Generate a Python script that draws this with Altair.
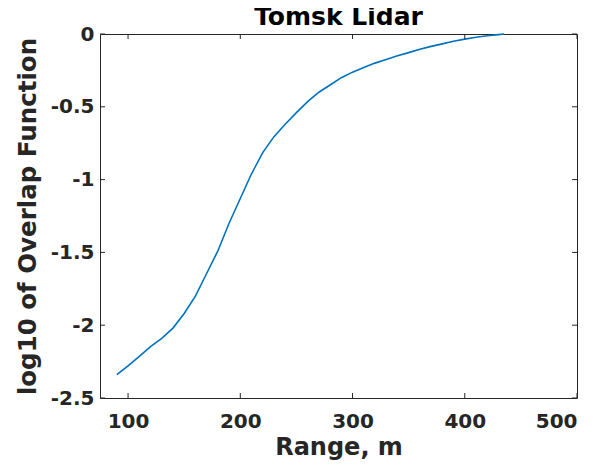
import altair as alt
import pandas as pd

# Data
range_m = [90, 100, 110, 120, 130, 140, 150, 160, 170, 180, 190, 200, 210, 220,
           230, 240, 250, 260, 270, 280, 290, 300, 310, 320, 330, 340, 350, 360,
           370, 380, 390, 400, 410, 420, 430, 435]
log_overlap = [-2.34, -2.28, -2.214, -2.147, -2.09, -2.02, -1.92, -1.80, -1.645, -1.49,
               -1.30, -1.13, -0.96, -0.815, -0.705, -0.62, -0.54, -0.465, -0.40, -0.35,
               -0.30, -0.262, -0.23, -0.20, -0.175, -0.15, -0.128, -0.105, -0.085,
               -0.068, -0.05, -0.035, -0.022, -0.012, -0.004, 0.0]
x_ticks = [100, 200, 300, 400, 500]
y_ticks = [-2.5, -2, -1.5, -1, -0.5, 0]

W, H = 477, 364
FONT = "DejaVu Sans"
INK = "#262626"
XT = "Range, m"
YT = "log10 of Overlap Function"

xs = alt.Scale(domain=[75, 500], nice=False, zero=False)
ys = alt.Scale(domain=[-2.5, 0], nice=False, zero=False)

df = pd.DataFrame({"x": range_m, "y": log_overlap})
xt = pd.DataFrame({"x": x_ticks})
yt = pd.DataFrame({"y": y_ticks})

x_axis = alt.Axis(
    values=x_ticks, format="d", grid=False, ticks=False, tickSize=0,
    domain=False, labelFont=FONT, labelFontSize=20, labelFontWeight="bold",
    labelColor=INK, labelBaseline="alphabetic", labelPadding=29,
    titleFont=FONT, titleFontSize=24, titleFontWeight="bold", titleColor=INK,
    titleBaseline="alphabetic", titleY=56)
y_axis = alt.Axis(
    values=y_ticks, grid=False,
    labelExpr="datum.value == 0 ? '0' : '-' + format(abs(datum.value), '~g')",
    ticks=False, tickSize=0, domain=False, labelFont=FONT, labelFontSize=20,
    labelFontWeight="bold", labelColor=INK, labelPadding=6,
    titleFont=FONT, titleFontSize=24.5, titleFontWeight="bold", titleColor=INK,
    titleAngle=-90, titleBaseline="middle", titleX=-72, titleY=H / 2)

line = alt.Chart(df).mark_line(color="#0072BD", strokeWidth=1.6).encode(
    x=alt.X("x:Q", scale=xs, title=XT, axis=x_axis),
    y=alt.Y("y:Q", scale=ys, title=YT, axis=y_axis),
)

xb = alt.Chart(xt).mark_rule(color=INK, strokeWidth=1).encode(
    x=alt.X("x:Q", scale=xs, title=XT), y=alt.value(H), y2=alt.value(H - 5))
xtop = alt.Chart(xt).mark_rule(color=INK, strokeWidth=1).encode(
    x=alt.X("x:Q", scale=xs, title=XT), y=alt.value(0), y2=alt.value(5))
yl = alt.Chart(yt).mark_rule(color=INK, strokeWidth=1).encode(
    y=alt.Y("y:Q", scale=ys, title=YT), x=alt.value(0), x2=alt.value(5))
yr = alt.Chart(yt).mark_rule(color=INK, strokeWidth=1).encode(
    y=alt.Y("y:Q", scale=ys, title=YT), x=alt.value(W), x2=alt.value(W - 5))

chart = alt.layer(line, xb, xtop, yl, yr).properties(
    width=W, height=H,
    title=alt.TitleParams("Tomsk Lidar", font=FONT, fontSize=25, fontWeight="bold",
                          color="black", anchor="middle", baseline="alphabetic",
                          offset=-26),
    autosize=alt.AutoSizeParams(type="none"),
    padding={"left": 92, "top": 26, "right": 17, "bottom": 62},
    background="white",
).configure_view(stroke=INK, strokeWidth=1)

chart.save("out.html", embed_options={"renderer": "svg", "actions": False})
